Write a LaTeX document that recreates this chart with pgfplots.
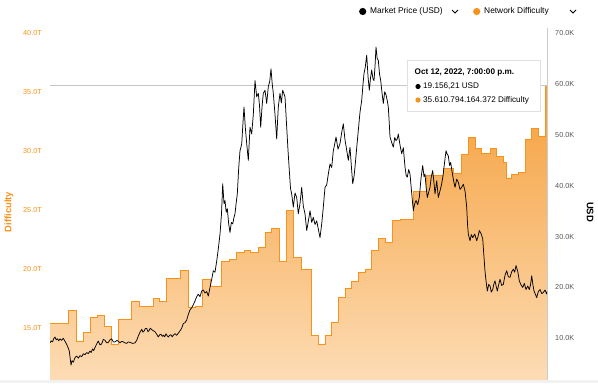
\documentclass[border=0pt]{standalone}
\usepackage{fontspec}
\setmainfont{Liberation Sans}
\usepackage{pgfplots}
\usepackage{pgfplotstable}
\pgfplotsset{compat=1.18}
\definecolor{btcorange}{HTML}{F7931A}
\definecolor{filltop}{HTML}{F5A03C}
\definecolor{fillbot}{HTML}{FDDCB5}
\definecolor{ticgray}{HTML}{555555}
\definecolor{axgray}{HTML}{CCCCCC}

% Network difficulty (T), step function; x = time position (0..497)
\pgfplotstableread{
x y
0 15.42
11.7 15.35
18.3 16.52
26.7 13.84
33.3 14.63
40 15.9
47.3 16.1
54.3 15.1
61.7 13.65
68.3 15.76
81.7 17.25
89 16.83
96.7 16.85
103.3 17.5
109.3 17.28
116 19.22
130 19.92
138.3 16.75
145 16.85
152.3 19.08
160 18.57
171.7 20.68
179.3 20.83
186.7 21.4
194 21.6
200.7 21.4
208.3 21.8
215 23.08
221.7 23.47
229.3 20.63
236 24.97
243.3 20.97
251.7 19.98
261 14.4
268.3 13.65
275 14.4
281.7 15.48
288.3 17.59
295 18.35
301.7 18.99
308.3 19.7
315 19.98
321.7 21.61
328.3 22.57
335.7 22.29
342.7 24.15
350 24.2
363.3 26.6
376.7 27.92
393.3 28.5
403.3 28.15
411 29.7
418.3 31.19
425 30.26
431.7 29.84
440 30.26
446.7 29.56
453.3 29.05
456 27.73
461.7 28.0
468.3 28.2
475 30.96
481.7 31.95
488.3 31.24
495 35.61
497 35.61
}\diff

% Same steps, closed down to the bottom of the axis for the area fill
\pgfplotstableread{
x y
0 10.59
0 15.42
11.7 15.35
18.3 16.52
26.7 13.84
33.3 14.63
40 15.9
47.3 16.1
54.3 15.1
61.7 13.65
68.3 15.76
81.7 17.25
89 16.83
96.7 16.85
103.3 17.5
109.3 17.28
116 19.22
130 19.92
138.3 16.75
145 16.85
152.3 19.08
160 18.57
171.7 20.68
179.3 20.83
186.7 21.4
194 21.6
200.7 21.4
208.3 21.8
215 23.08
221.7 23.47
229.3 20.63
236 24.97
243.3 20.97
251.7 19.98
261 14.4
268.3 13.65
275 14.4
281.7 15.48
288.3 17.59
295 18.35
301.7 18.99
308.3 19.7
315 19.98
321.7 21.61
328.3 22.57
335.7 22.29
342.7 24.15
350 24.2
363.3 26.6
376.7 27.92
393.3 28.5
403.3 28.15
411 29.7
418.3 31.19
425 30.26
431.7 29.84
440 30.26
446.7 29.56
453.3 29.05
456 27.73
461.7 28.0
468.3 28.2
475 30.96
481.7 31.95
488.3 31.24
495 35.61
497 35.61
497 10.59
}\difffill

% Market price (thousand USD)
\pgfplotstableread{
x y
0 9.13
1.2 9.5
2.5 9.3
3.7 9.9
5 10.26
6.2 9.7
7.5 9.9
8.7 9.5
10 9.9
11.5 9.6
13.3 10.0
15 9.4
16.7 8.8
18 8.2
19.3 7.5
21 4.73
22 5.6
23.3 5.3
25 6.2
26.7 6.5
28.3 6.1
30 6.6
31.7 6.4
33.3 6.96
35 6.8
36.7 7.2
38.3 7.0
40 7.5
41.2 7.2
42.5 7.9
43.7 7.6
45 8.2
46.7 8.9
48.3 9.47
50 8.7
51.7 8.9
53.3 9.8
55 9.6
56.7 9.1
58.3 9.2
60 9.7
61.7 9.9
63.3 9.3
65 9.3
67 9.6
70 9.13
71.7 9.4
73.3 9.3
75 9.1
76.7 9.0
78.3 9.3
80 9.2
82.5 9.0
85 9.1
86.7 9.6
88.3 10.45
90 11.2
91.7 11.77
93 11.2
94 11.4
95.3 11.9
96.7 11.96
98 11.3
99 11.5
100.3 12.0
101.7 11.7
103.3 11.5
105 11.3
106.7 10.8
108.3 10.26
109.7 10.7
111 10.8
112.2 10.4
113.3 10.6
114.7 10.3
116 10.9
117.2 10.5
118.3 10.26
119.7 10.6
121 10.7
122.2 10.3
123.3 10.6
125 10.9
126.7 10.6
129 11.2
130.5 11.6
131.7 12.0
133.3 12.9
135 13.08
136.7 13.6
138.3 14.7
140 15.6
141.7 16.0
143.3 16.6
145 17.36
146.7 18.2
148.3 18.68
150 18.2
151.7 19.3
153.3 19.5
155 18.9
156.7 19.2
158.3 18.3
160 20.0
161.7 21.6
163.3 23.3
165 23.0
166.7 25.2
168.3 27.6
170 30.5
171.5 34.5
172.7 40.4
174 36.5
175 37.1
176.2 34.8
177.3 35.5
178.7 32.5
180 30.8
181.3 32.8
182.7 32.5
184 33.8
185 34.5
186.2 36.7
187.3 38.4
188.7 43.5
190 46.9
191.7 48.2
193 52.5
194 55.5
195.3 51.5
196.7 48.3
198.3 45.0
200 51.5
201.7 50.2
203.3 54.0
205 60.7
206.7 57.5
208.3 58.2
209.5 55.8
210.7 51.5
212 55.5
213.3 58.2
215 58.8
216.7 56.2
218.3 59.5
219.7 60.5
221 63.0
222.2 60.1
223.3 58.2
225 54.0
226.7 49.2
227.5 52.5
228.3 55.5
230 58.2
231.3 56.3
232.7 58.8
235 57.5
236.7 51.5
238 47.0
239.3 43.0
240.5 39.5
241.7 38.4
243.3 35.8
245 38.6
246.7 37.7
248.3 34.5
250 36.5
251.7 39.7
253.3 36.0
255 34.5
256.7 31.2
258.3 33.0
260 35.1
261.7 32.8
263.3 33.8
265 32.4
266.7 33.1
268.3 31.5
270 29.8
271.7 32.5
273.3 35.8
275 39.7
276.7 40.2
278.3 42.3
280 44.3
281.7 43.6
283.3 46.9
284.7 48.2
286 49.6
288 47.2
290 48.3
291.7 50.5
293.3 52.2
295 49.0
296.7 47.0
298.3 45.0
300 47.6
301.3 44.0
302.7 40.4
304 41.8
305 43.7
306.7 47.5
308.3 50.9
310 54.5
311.7 56.8
313 60.0
314 62.1
315.3 63.4
316.7 65.7
318 61.5
319.3 58.8
320.5 61.2
321.7 62.8
323 61.0
324 60.7
325 63.5
326 67.3
327.2 65.0
328.3 64.7
329.5 62.0
330.7 60.7
332 58.3
333.3 56.2
334.7 58.5
336 57.9
337.2 56.8
338.3 55.5
339.2 52.5
340 49.6
341.7 48.5
343.3 47.6
344.7 49.5
346 48.9
347.2 49.2
348.3 50.2
350 48.0
351.7 46.3
353.3 47.5
355 43.7
356.2 42.0
357.3 41.7
358.7 43.2
360 42.3
361.7 38.5
363.3 35.1
364.7 36.5
366 37.1
367.7 36.3
369.3 37.7
371 41.5
372.7 44.0
374 41.8
375 42.3
376.2 39.5
377.3 37.7
378.7 38.8
380 39.7
381.3 41.8
382.7 43.0
384 40.5
385 38.4
386.7 41.0
388.3 37.7
390 39.0
391.7 40.4
393 42.0
394 43.7
395 45.3
396 46.9
397.2 46.2
398.3 45.9
399.5 44.0
400.7 44.6
401.7 43.2
402.7 42.0
404 40.6
405 39.7
406.7 41.3
408.3 40.7
410 39.3
411.7 39.7
413.3 40.3
415 39.0
416.7 35.8
417.5 32.5
418.3 30.5
419.2 29.8
420 29.2
421.3 30.4
422.7 29.8
424.7 30.5
426.7 29.2
428 30.0
429.3 31.2
431 30.6
432.7 29.6
434 25.9
435 23.2
436 21.3
437.3 19.3
438.7 20.6
440 20.3
441.3 19.1
442.7 19.6
444 20.8
445 21.3
446.2 20.2
447.3 19.3
448.7 20.6
450 21.6
451.7 20.4
453.3 20.6
455 22.4
456.7 23.3
458.3 22.1
460 22.0
461.7 23.1
463.3 23.6
464.7 23.0
466 24.3
467.7 23.2
469.3 21.3
471 20.5
472.7 20.0
474.3 20.8
476 19.6
477.7 20.3
479.3 19.6
480.5 20.5
481.7 22.3
483 20.4
484 19.3
485.3 18.7
486.7 18.0
488.3 19.2
490 19.6
491.7 18.8
493.3 19.0
495 19.5
496.7 18.7
497 19.16
}\price

\begin{document}
\begin{tikzpicture}[x=1bp,y=1bp]
\useasboundingbox (0,0) rectangle (598,383);
\fill[black!5] (0,0) rectangle (598,3);

% ---- Difficulty axis (left)
\begin{axis}[
  at={(50bp,3bp)}, anchor=south west,
  scale only axis, width=497bp, height=352bp,
  xmin=0, xmax=497, ymin=10.59, ymax=40.45,
  axis x line=none,
  axis y line*=left,
  y axis line style={draw=none},
  major tick length=0pt,
  ytick={15,20,25,30,35,40},
  yticklabel={\pgfmathprintnumber[fixed,fixed zerofill,precision=1]{\tick}T},
  /pgf/number format/assume math mode=true,
  yticklabel style={font=\fontsize{7.3}{8}\selectfont, text=btcorange, inner sep=0pt, xshift=-8bp},
  ylabel={Difficulty},
  ylabel style={font=\fontsize{9.5}{11}\selectfont\bfseries, text=btcorange,
    at={(rel axis cs:-0.0825,0.477)}, anchor=center},
]
\addplot[const plot, draw=none, top color=filltop, bottom color=fillbot] table[x=x,y=y] {\difffill};
\addplot[const plot, draw=btcorange, line width=0.85pt] table[x=x,y=y] {\diff};
\draw[black!22, line width=0.7pt] (axis cs:0,35.61) -- (axis cs:497,35.61);
\end{axis}

% ---- Price axis (right)
\begin{axis}[
  at={(50bp,3bp)}, anchor=south west,
  scale only axis, width=497bp, height=352bp,
  xmin=0, xmax=497, ymin=1.80, ymax=71.04,
  axis x line=none,
  axis y line*=right,
  y axis line style={draw=axgray, line width=0.6pt},
  major tick length=0pt,
  ytick={10,20,30,40,50,60,70},
  yticklabel={\pgfmathprintnumber[fixed,fixed zerofill,precision=1]{\tick}K},
  /pgf/number format/assume math mode=true,
  yticklabel style={font=\fontsize{7.3}{8}\selectfont, text=ticgray, inner sep=0pt, xshift=8bp},
  ylabel={USD},
  ylabel style={font=\fontsize{9.5}{11}\selectfont\bfseries, text=black, rotate=180,
    at={(rel axis cs:1.0865,0.477)}, anchor=center},
]
\addplot[black, line width=0.75pt, line join=round] table[x=x,y=y] {\price};
\end{axis}

% ---- Legend (top)
\fill[black] (362.7,371.5) circle (3.6);
\node[anchor=west, inner sep=0pt, font=\fontsize{8.4}{10}\selectfont] at (370,371.5) {Market Price (USD)};
\draw[black, line width=0.8pt] (452,373) -- (455,370) -- (458,373);
\fill[btcorange] (476.7,371.5) circle (3.6);
\node[anchor=west, inner sep=0pt, font=\fontsize{8.4}{10}\selectfont] at (484,371.5) {Network Difficulty};
\draw[black, line width=0.8pt] (570,373) -- (573,370) -- (576,373);

% ---- Tooltip
\draw[black!12, fill=white] (407.5,272) rectangle (540.5,322.5);
\node[anchor=west, inner sep=0pt, font=\fontsize{8.2}{10}\selectfont\bfseries] at (414.5,311) {Oct 12, 2022, 7:00:00 p.m.};
\fill[black] (418,296.5) circle (2.6);
\node[anchor=west, inner sep=0pt, font=\fontsize{8.2}{10}\selectfont] at (423,296.5) {19.156,21 USD};
\fill[btcorange] (418,283) circle (2.6);
\node[anchor=west, inner sep=0pt, font=\fontsize{8.2}{10}\selectfont] at (423,283) {35.610.794.164.372 Difficulty};
\end{tikzpicture}
\end{document}
